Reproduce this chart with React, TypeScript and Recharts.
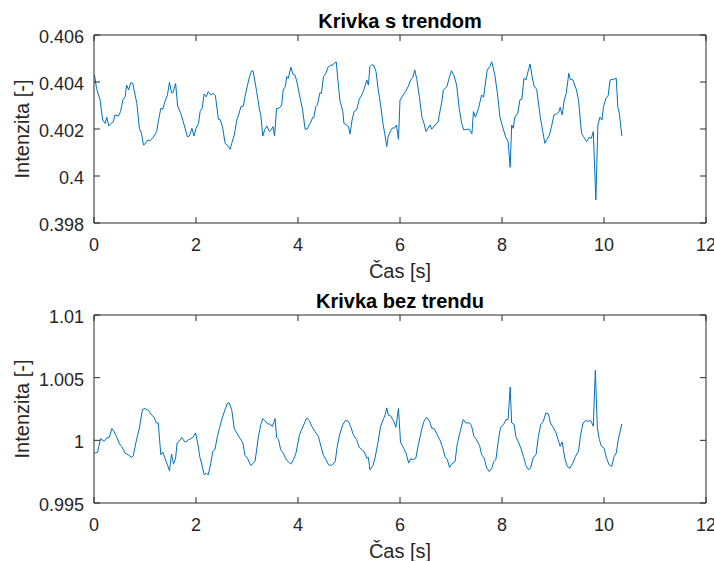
import React from 'react';
import { LineChart, Line, XAxis, YAxis } from 'recharts';

// time [s] and intensity
const topTime = [
  0.01, 0.05, 0.12, 0.17, 0.22, 0.25, 0.29, 0.35, 0.38, 0.41, 0.48, 0.52, 0.57, 0.61, 0.64, 0.68, 0.72, 0.76, 0.84, 0.89,
  0.93, 0.97, 1.0, 1.05, 1.1, 1.16, 1.23, 1.26, 1.31, 1.35, 1.39, 1.44, 1.48, 1.52, 1.55, 1.6, 1.64, 1.7, 1.75, 1.83,
  1.87, 1.92, 1.96, 2.0, 2.05, 2.08, 2.12, 2.16, 2.2, 2.24, 2.29, 2.34, 2.38, 2.44, 2.47, 2.52, 2.57, 2.61, 2.67, 2.7,
  2.75, 2.8, 2.83, 2.88, 2.93, 2.96, 3.01, 3.05, 3.09, 3.12, 3.19, 3.24, 3.27, 3.31, 3.35, 3.39, 3.44, 3.47, 3.51, 3.54,
  3.58, 3.63, 3.68, 3.71, 3.75, 3.78, 3.81, 3.86, 3.9, 3.94, 3.97, 4.03, 4.09, 4.14, 4.18, 4.24, 4.29, 4.31, 4.35, 4.38,
  4.43, 4.46, 4.5, 4.54, 4.59, 4.64, 4.68, 4.71, 4.75, 4.82, 4.88, 4.9, 4.95, 4.99, 5.02, 5.06, 5.1, 5.15, 5.2, 5.25,
  5.28, 5.32, 5.35, 5.38, 5.41, 5.45, 5.49, 5.53, 5.57, 5.62, 5.67, 5.7, 5.74, 5.77, 5.82, 5.86, 5.89, 5.93, 5.97, 6.0,
  6.05, 6.1, 6.16, 6.21, 6.25, 6.29, 6.33, 6.38, 6.43, 6.47, 6.51, 6.55, 6.59, 6.62, 6.69, 6.75, 6.77, 6.82, 6.85, 6.92,
  6.97, 7.01, 7.06, 7.11, 7.16, 7.21, 7.25, 7.31, 7.36, 7.41, 7.44, 7.48, 7.54, 7.6, 7.64, 7.67, 7.71, 7.76, 7.8, 7.86,
  7.91, 7.96, 8.01, 8.07, 8.12, 8.16, 8.19, 8.22, 8.25, 8.31, 8.35, 8.39, 8.43, 8.47, 8.51, 8.55, 8.59, 8.63, 8.68, 8.75,
  8.8, 8.84, 8.88, 8.93, 8.97, 9.02, 9.07, 9.12, 9.14, 9.18, 9.22, 9.26, 9.31, 9.34, 9.39, 9.46, 9.5, 9.56, 9.6, 9.66,
  9.71, 9.75, 9.79, 9.84, 9.88, 9.92, 9.96, 9.99, 10.04, 10.08, 10.12, 10.18, 10.24, 10.27, 10.3, 10.35,
];
const topValues = [
  0.4043, 0.40373, 0.40323, 0.40238, 0.40224, 0.4025, 0.40213, 0.40227, 0.40231, 0.4026, 0.40255, 0.40274, 0.40326, 0.40337, 0.40387, 0.40366, 0.40397, 0.40394, 0.40309, 0.40203,
  0.40182, 0.40132, 0.40136, 0.40153, 0.4015, 0.40165, 0.40189, 0.40231, 0.40288, 0.40284, 0.40316, 0.40345, 0.40399, 0.40354, 0.40354, 0.40394, 0.40298, 0.40267, 0.40231, 0.40167,
  0.4017, 0.40203, 0.4017, 0.40203, 0.40224, 0.40274, 0.40288, 0.40349, 0.40337, 0.40359, 0.40345, 0.40352, 0.40342, 0.40241, 0.40241, 0.4021, 0.40139, 0.40132, 0.40114, 0.40139,
  0.40174, 0.40238, 0.40255, 0.40295, 0.40298, 0.40337, 0.40387, 0.40423, 0.40448, 0.40446, 0.40359, 0.40288, 0.4026, 0.4017, 0.40199, 0.40213, 0.40189, 0.40196, 0.4021, 0.4017,
  0.40288, 0.40288, 0.40302, 0.40366, 0.4038, 0.40423, 0.40416, 0.40463, 0.40434, 0.40429, 0.40409, 0.40345, 0.40281, 0.40199, 0.402, 0.40224, 0.4025, 0.40248, 0.40295, 0.40302,
  0.40354, 0.40352, 0.40423, 0.40434, 0.40463, 0.40472, 0.40471, 0.4048, 0.40485, 0.40323, 0.40274, 0.40224, 0.40217, 0.40211, 0.40179, 0.40238, 0.40274, 0.40281, 0.40326, 0.40345,
  0.40359, 0.40387, 0.40409, 0.40387, 0.40465, 0.40474, 0.40469, 0.40444, 0.40373, 0.40302, 0.40217, 0.40182, 0.40125, 0.4017, 0.40194, 0.40206, 0.40203, 0.40217, 0.40156, 0.40323,
  0.4034, 0.40357, 0.4038, 0.40409, 0.40419, 0.40451, 0.40411, 0.40337, 0.4025, 0.40224, 0.40189, 0.40203, 0.40217, 0.40199, 0.40217, 0.40231, 0.4026, 0.40316, 0.40366, 0.4038,
  0.40423, 0.40448, 0.40426, 0.40387, 0.40288, 0.40224, 0.40196, 0.40199, 0.40199, 0.40179, 0.40274, 0.4025, 0.40288, 0.40345, 0.40335, 0.40387, 0.40451, 0.40465, 0.40486, 0.40429,
  0.40352, 0.4025, 0.40211, 0.40167, 0.40146, 0.40037, 0.40217, 0.40203, 0.4025, 0.40267, 0.40323, 0.40326, 0.40416, 0.40409, 0.40444, 0.40477, 0.40423, 0.40383, 0.40369, 0.40252,
  0.40189, 0.40139, 0.40156, 0.40174, 0.4021, 0.4026, 0.40265, 0.40274, 0.40292, 0.4026, 0.40323, 0.40352, 0.40437, 0.40411, 0.40409, 0.40366, 0.40323, 0.40182, 0.40167, 0.40146,
  0.40165, 0.4016, 0.40189, 0.39898, 0.40217, 0.4025, 0.40238, 0.40295, 0.40331, 0.4034, 0.40409, 0.40411, 0.40416, 0.40295, 0.40267, 0.4017,
];

const bottomTime = [
  0.01, 0.07, 0.13, 0.2, 0.25, 0.3, 0.35, 0.39, 0.44, 0.5, 0.54, 0.61, 0.67, 0.74, 0.77, 0.82, 0.89, 0.95, 1.0, 1.07,
  1.13, 1.18, 1.22, 1.26, 1.31, 1.35, 1.39, 1.44, 1.48, 1.52, 1.56, 1.6, 1.63, 1.67, 1.72, 1.77, 1.8, 1.85, 1.9, 1.94,
  1.99, 2.03, 2.08, 2.11, 2.16, 2.2, 2.24, 2.29, 2.33, 2.37, 2.42, 2.47, 2.52, 2.57, 2.61, 2.65, 2.7, 2.75, 2.8, 2.85,
  2.92, 2.96, 3.01, 3.05, 3.08, 3.12, 3.16, 3.22, 3.27, 3.31, 3.35, 3.4, 3.44, 3.5, 3.55, 3.58, 3.62, 3.66, 3.71, 3.77,
  3.81, 3.86, 3.91, 3.96, 4.03, 4.07, 4.12, 4.17, 4.22, 4.27, 4.33, 4.4, 4.45, 4.5, 4.55, 4.6, 4.66, 4.73, 4.77, 4.82,
  4.88, 4.93, 4.99, 5.03, 5.09, 5.15, 5.2, 5.26, 5.31, 5.35, 5.38, 5.41, 5.47, 5.51, 5.56, 5.62, 5.68, 5.71, 5.74, 5.77,
  5.82, 5.87, 5.92, 5.97, 6.01, 6.07, 6.12, 6.17, 6.21, 6.26, 6.31, 6.36, 6.43, 6.47, 6.52, 6.58, 6.62, 6.67, 6.73, 6.78,
  6.84, 6.88, 6.93, 6.97, 7.01, 7.08, 7.12, 7.18, 7.24, 7.29, 7.36, 7.4, 7.45, 7.5, 7.56, 7.6, 7.65, 7.7, 7.75, 7.8,
  7.84, 7.88, 7.93, 7.97, 8.03, 8.08, 8.12, 8.16, 8.19, 8.24, 8.27, 8.32, 8.37, 8.42, 8.47, 8.52, 8.56, 8.61, 8.67, 8.71,
  8.76, 8.81, 8.86, 8.91, 8.95, 9.01, 9.06, 9.1, 9.14, 9.18, 9.2, 9.23, 9.28, 9.33, 9.39, 9.44, 9.5, 9.54, 9.59, 9.65,
  9.69, 9.74, 9.79, 9.83, 9.87, 9.91, 9.95, 10.0, 10.05, 10.1, 10.15, 10.2, 10.24, 10.28, 10.35,
];
const bottomValues = [
  0.99898, 0.99906, 1.00013, 0.99992, 1.00019, 1.00024, 1.00094, 1.00072, 1.00032, 0.99971, 0.99952, 0.99898, 0.99885, 0.99864, 0.9988, 0.99979, 1.00099, 1.00246, 1.00254, 1.00238,
  1.00201, 1.00185, 1.00139, 1.00139, 0.99885, 0.99906, 0.99858, 0.99805, 0.99757, 0.9989, 0.9981, 0.99858, 0.99979, 0.99992, 1.00024, 0.99992, 0.99987, 1.00005, 1.00013, 1.00024,
  1.00059, 0.99987, 0.99858, 0.99818, 0.99724, 0.99738, 0.99724, 0.99818, 0.99912, 0.99925, 1.00032, 1.00112, 1.00185, 1.00246, 1.00292, 1.003, 1.00246, 1.00094, 1.00059, 1.00024,
  0.99979, 0.9988, 0.99858, 0.99818, 0.99799, 0.99818, 0.99837, 1.00019, 1.00126, 1.00174, 1.00158, 1.00131, 1.00131, 1.00112, 1.00174, 1.00024, 1.00005, 0.99925, 0.99898, 0.99845,
  0.99831, 0.9981, 0.99845, 0.99898, 1.00045, 1.00086, 1.00131, 1.00179, 1.00158, 1.00112, 1.00072, 1.00032, 0.99952, 0.9988, 0.99845, 0.99805, 0.99799, 0.99831, 0.99952, 1.00051,
  1.00126, 1.00158, 1.00152, 1.00112, 1.0004, 1.00005, 0.99944, 0.99925, 0.99898, 0.99858, 0.99864, 0.99765, 0.99799, 0.99858, 0.99965, 1.00112, 1.00174, 1.00206, 1.00259, 1.00201,
  1.00193, 1.00158, 1.00104, 1.00254, 0.99987, 0.99938, 0.99898, 0.99818, 0.99853, 0.99845, 0.99858, 0.99965, 1.00094, 1.00152, 1.00185, 1.00152, 1.00099, 1.00094, 1.00045, 1.00005,
  0.99938, 0.99872, 0.99845, 0.99783, 0.9981, 0.99831, 0.99965, 1.00072, 1.00166, 1.00139, 1.00139, 1.0012, 1.00032, 1.00005, 0.9996, 0.99885, 0.99858, 0.99778, 0.99751, 0.99778,
  0.99831, 0.99845, 1.00005, 1.00099, 1.00126, 1.00166, 1.00166, 1.00425, 1.00139, 1.00126, 1.00032, 0.99987, 0.99938, 0.99872, 0.99799, 0.99765, 0.99778, 0.99858, 0.9989, 1.00024,
  1.00126, 1.00152, 1.00219, 1.00211, 1.00139, 1.00099, 1.00059, 1.00005, 0.99952, 0.99987, 0.99938, 0.99858, 0.99791, 0.99778, 0.99818, 0.99872, 0.99912, 1.0004, 1.00139, 1.00158,
  1.00152, 1.00158, 1.00112, 1.00559, 1.00099, 1.00005, 0.99952, 0.99938, 0.99858, 0.99805, 0.99791, 0.99872, 0.99898, 1.00005, 1.00131,
];

const timeTicks = [0, 2, 4, 6, 8, 10, 12];
const topTicks = [0.398, 0.4, 0.402, 0.404, 0.406];
const bottomTicks = [0.995, 1, 1.005, 1.01];

const FONT = '"Liberation Sans", Arial, Helvetica, sans-serif';
const AXIS = '#262626';
const LINE = '#0072BD';
const TICK_LEN = 6;

// MATLAB style ticks point into the plot box
const BottomTick = (props: any) => {
  const { x, y, payload } = props;
  return (
    <g>
      <line x1={x} y1={y} x2={x} y2={y - TICK_LEN} stroke={AXIS} strokeWidth={1} />
      <text x={x} y={y + 28} textAnchor="middle" fontSize={18} fontFamily={FONT} fill={AXIS}>
        {String(payload.value)}
      </text>
    </g>
  );
};

const TopTick = (props: any) => {
  const { x, y } = props;
  return <line x1={x} y1={y} x2={x} y2={y + TICK_LEN} stroke={AXIS} strokeWidth={1} />;
};

const LeftTick = (props: any) => {
  const { x, y, payload } = props;
  return (
    <g>
      <line x1={x} y1={y} x2={x + TICK_LEN} y2={y} stroke={AXIS} strokeWidth={1} />
      <text x={x - 10} y={y + 8} textAnchor="end" fontSize={18} fontFamily={FONT} fill={AXIS}>
        {String(payload.value)}
      </text>
    </g>
  );
};

const RightTick = (props: any) => {
  const { x, y } = props;
  return <line x1={x} y1={y} x2={x - TICK_LEN} y2={y} stroke={AXIS} strokeWidth={1} />;
};

interface PanelProps {
  title: string;
  times: number[];
  values: number[];
  yTicks: number[];
  top: number;
  height: number;
  axisHeight: number;
  labelOffset: number;
}

const Panel = ({ title, times, values, yTicks, top, height, axisHeight, labelOffset }: PanelProps) => {
  const data = times.map((t, i) => ({ t, v: values[i] }));
  const yDomain = [yTicks[0], yTicks[yTicks.length - 1]];
  const axisLine = { stroke: AXIS, strokeWidth: 1 };
  return (
    <div style={{ position: 'absolute', left: 0, top, width: 714, height }}>
      <LineChart
        width={714}
        height={height}
        data={data}
        margin={{ top: 34, right: 7, bottom: 0, left: 0 }}
        style={{ overflow: 'visible' }}
      >
        <XAxis
          dataKey="t"
          type="number"
          domain={[0, 12]}
          ticks={timeTicks}
          allowDataOverflow
          height={axisHeight}
          axisLine={axisLine}
          tickLine={false}
          tickSize={0}
          tickMargin={0}
          tick={<BottomTick />}
          label={{ value: 'Čas [s]', position: 'insideBottom', offset: labelOffset, fontSize: 20, fontFamily: FONT, fill: AXIS }}
        />
        <XAxis
          xAxisId="top"
          orientation="top"
          dataKey="t"
          type="number"
          domain={[0, 12]}
          ticks={timeTicks}
          allowDataOverflow
          height={1}
          axisLine={axisLine}
          tickLine={false}
          tickSize={0}
          tickMargin={0}
          tick={<TopTick />}
          label={{ value: title, position: 'top', offset: 6, fontSize: 20, fontWeight: 'bold', fontFamily: FONT, fill: '#000' }}
        />
        <YAxis
          type="number"
          domain={yDomain}
          ticks={yTicks}
          allowDataOverflow
          width={94}
          axisLine={axisLine}
          tickLine={false}
          tickSize={0}
          tickMargin={0}
          tick={<LeftTick />}
          label={{ value: 'Intenzita [-]', angle: -90, position: 'insideLeft', offset: 22, fontSize: 20, fontFamily: FONT, fill: AXIS, style: { textAnchor: 'middle' } }}
        />
        <YAxis
          yAxisId="right"
          orientation="right"
          type="number"
          domain={yDomain}
          ticks={yTicks}
          allowDataOverflow
          width={1}
          axisLine={axisLine}
          tickLine={false}
          tickSize={0}
          tickMargin={0}
          tick={<RightTick />}
        />
        {/* invisible copy so the top and right box axes get drawn */}
        <Line xAxisId="top" yAxisId="right" type="linear" dataKey="v" stroke="none" dot={false} activeDot={false} isAnimationActive={false} />
        <Line type="linear" dataKey="v" stroke={LINE} strokeWidth={1} dot={false} isAnimationActive={false} />
      </LineChart>
    </div>
  );
};

export default function App() {
  return (
    <div style={{ position: 'absolute', left: 0, top: 0, width: 714, height: 561, background: '#fff', fontFamily: FONT, overflow: 'hidden' }}>
      <Panel title="Krivka s trendom" times={topTime} values={topValues} yTicks={topTicks} top={0} height={290} axisHeight={67} labelOffset={12} />
      <Panel title="Krivka bez trendu" times={bottomTime} values={bottomValues} yTicks={bottomTicks} top={280} height={281} axisHeight={58} labelOffset={3} />
    </div>
  );
}
